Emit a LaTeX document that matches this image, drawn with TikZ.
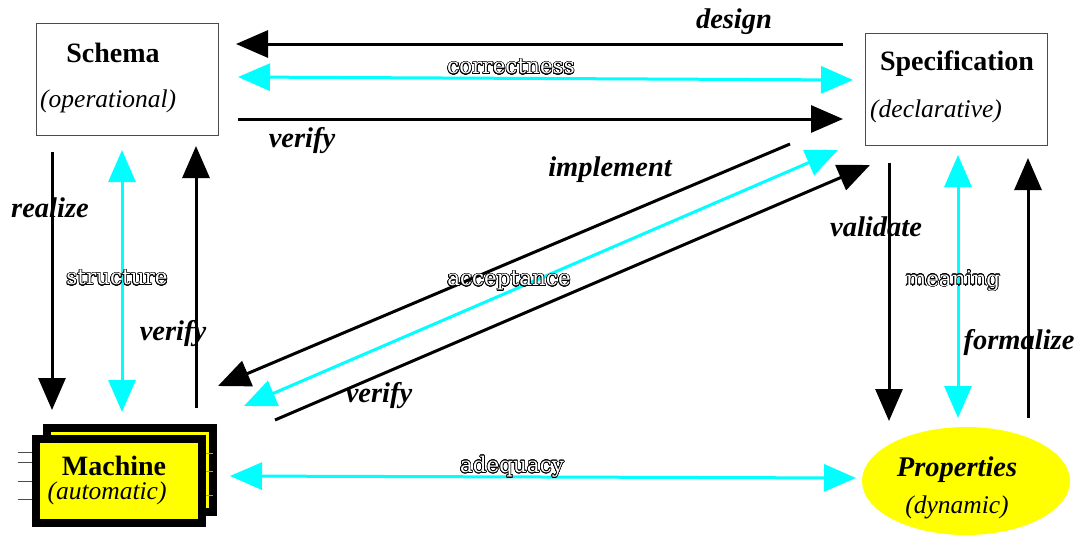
\documentclass[tikz,border=0pt]{standalone}
\usepackage{fontspec}
\setmainfont{Liberation Serif}
\newfontfamily\outfont{DejaVu Serif}
\usepackage{contour}
\usetikzlibrary{arrows.meta,shapes.geometric}
\contourlength{0.65pt}
\contournumber{24}
\definecolor{cyanx}{RGB}{0,255,255}
\definecolor{yellowx}{RGB}{255,255,0}
\newcommand{\outl}[1]{{\color{white}\contour{black}{#1}}}
\begin{document}
\begin{tikzpicture}[x=1pt,y=-1pt,
  tip/.tip={Triangle[length=32pt,width=27pt]},
  blk/.style={line width=3pt,-tip},
  cyn/.style={line width=3pt,cyanx,tip-tip},
  bl/.style={font=\fontsize{28}{32}\selectfont\bfseries, inner sep=0pt},
  it/.style={font=\fontsize{25.5}{30}\selectfont\itshape, inner sep=0pt},
  lbl/.style={font=\fontsize{28.5}{32}\selectfont\bfseries\itshape, inner sep=0pt},
  olbl/.style={font=\outfont\fontsize{21.5}{25}\selectfont, inner sep=0pt},
  plainbox/.style={draw=black!70, line width=0.9pt, minimum width=182pt, minimum height=112pt, inner sep=0pt},
  machbox/.style={draw=black, fill=yellowx, line width=8pt, minimum width=166pt, minimum height=84pt, inner sep=0pt},
  tick/.style={line width=0.8pt, black!70}
]
\useasboundingbox (0,0) rectangle (1077,536);

% ---- Schema
\node[plainbox] (schema) at (127,79) {};
\node[bl] (schemaT) at (113,53) {Schema};
\node[it, anchor=west] (schemaS) at (40,101) {(operational)};

% ---- Specification
\node[plainbox] (spec) at (956,89) {};
\node[bl] (specT) at (957,64) {Specification};
\node[it, anchor=west] (specS) at (870,111) {(declarative)};

% ---- Machine (stacked)
\node[machbox] (machback) at (130,470) {};
\node[machbox] (machfront) at (119,481) {};
\foreach \yy [count=\i] in {452,462,481,499} {
  \coordinate (tl\i) at (18,\yy);
  \draw[tick] (tl\i) -- (tl\i -| machfront.west);
}
\foreach \yy [count=\i] in {453,471,495} {
  \coordinate (tr\i) at (213,\yy);
  \draw[tick, black!40] (tr\i) -- (tr\i -| machfront.east);
}
\node[bl] (machT) at (114,466) {Machine};
\node[it] (machS) at (107,493) {(automatic)};

% ---- Properties
\node[ellipse, fill=yellowx, minimum width=208pt, minimum height=108pt, inner sep=0pt] (prop) at (966,481) {};
\node[lbl] (propT) at (957,470) {Properties};
\node[it] (propS) at (957,507) {(dynamic)};

% ---- endpoints
\coordinate (dS) at (843,44);  \coordinate (dE) at (236,44);
\coordinate (cL) at (238,77);  \coordinate (cR) at (853,80);
\coordinate (vS) at (238,119); \coordinate (vE) at (843,119);
\coordinate (iS) at (790,144); \coordinate (iE) at (218,386);
\coordinate (aR) at (838,150); \coordinate (aL) at (244,406);
\coordinate (wS) at (275,420); \coordinate (wE) at (870,165);
\coordinate (rS) at (52,152);  \coordinate (rE) at (52,410);
\coordinate (sT) at (122,150); \coordinate (sB) at (122,412);
\coordinate (lvS) at (196,408); \coordinate (lvE) at (196,146);
\coordinate (vaS) at (889,163); \coordinate (vaE) at (889,421);
\coordinate (mT) at (958,155); \coordinate (mB) at (958,418);
\coordinate (fS) at (1028,418); \coordinate (fE) at (1028,158);
\coordinate (adL) at (230,476); \coordinate (adR) at (856,478);

% ---- connectors
\draw[blk] (dS) -- (dE);
\draw[cyn] (cL) -- (cR);
\draw[blk] (vS) -- (vE);
\draw[blk] (iS) -- (iE);
\draw[cyn] (aR) -- (aL);
\draw[blk] (wS) -- (wE);
\draw[blk] (rS) -- (rE);
\draw[cyn] (sT) -- (sB);
\draw[blk] (lvS) -- (lvE);
\draw[blk] (vaS) -- (vaE);
\draw[cyn] (mT) -- (mB);
\draw[blk] (fS) -- (fE);
\draw[cyn] (adL) -- (adR);

% ---- labels
\node[lbl] (ldesign) at (734,22) {design};
\node[olbl] (lcorr) at (511,67) {\outl{correctness}};
\node[lbl] (lverify1) at (302,141) {verify};
\node[lbl] (limpl) at (610,170) {implement};
\node[olbl] (lacc) at (509,281) {\outl{acceptance}};
\node[lbl] (lverify2) at (379,396) {verify};
\node[lbl] (lreal) at (50,208) {realize};
\node[olbl] (lstruct) at (117,278) {\outl{structure}};
\node[lbl] (lverify3) at (173,334) {verify};
\node[lbl] (lvalid) at (876,227) {validate};
\node[olbl] (lmean) at (953,281) {\outl{meaning}};
\node[lbl] (lform) at (1019,342) {formalize};
\node[olbl] (ladeq) at (512,467) {\outl{adequacy}};
\end{tikzpicture}
\end{document}
